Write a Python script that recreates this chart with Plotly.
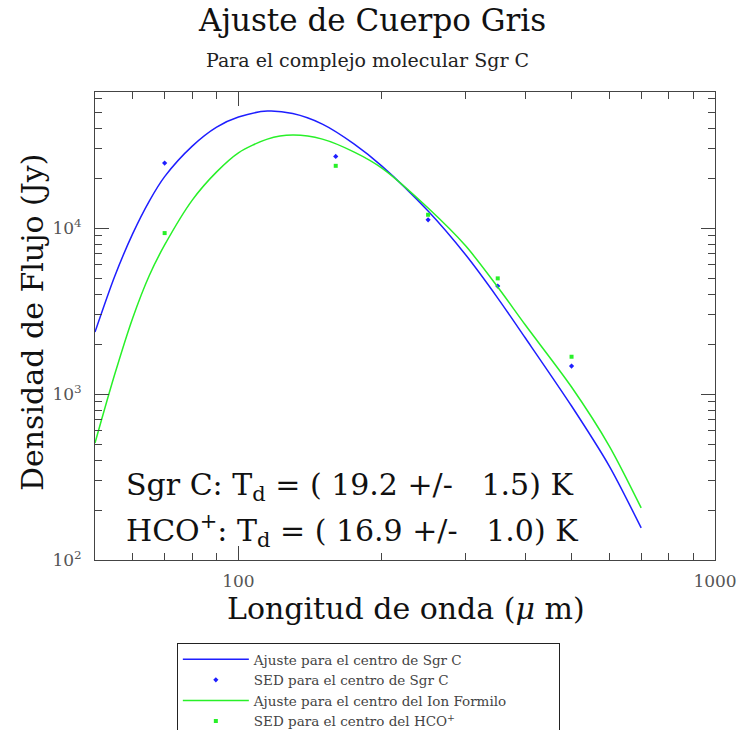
import plotly.graph_objects as go

# ---- data ----
fit_wavelength = [50, 55, 60, 65, 70, 80, 90, 100, 115, 130, 150, 175, 200, 250, 300, 350, 400, 500, 600, 700]
fit_sgrc = [2363, 5124, 9265, 14560, 20430, 31190, 40590, 46650, 50690, 48960, 42310, 32060, 23630,
            12660, 6876, 3787, 2175, 847, 368, 156]
fit_hco = [507, 1315, 2876, 5183, 7911, 14750, 21820, 28430, 34370, 36330, 34370, 28700, 22980,
           13200, 7790, 4412, 2604, 1102, 486, 206]

sed_wavelength = [70, 160, 250, 350, 500]
sed_sgrc = [24640, 27040, 11220, 4474, 1475]
sed_hco = [9330, 23720, 12030, 4977, 1678]

x_major = [100, 1000]
x_major_text = ["100", "1000"]
x_minor = [60, 70, 80, 90, 200, 300, 400, 500, 600, 700, 800, 900]
y_major = [100, 1000, 10000]
y_major_text = ["10<sup>2</sup>", "10<sup>3</sup>", "10<sup>4</sup>"]
y_minor = [200, 300, 400, 500, 600, 700, 800, 900, 2000, 3000, 4000, 5000, 6000, 7000, 8000, 9000,
           20000, 30000, 40000, 50000, 60000]

names = ["Ajuste para el centro de Sgr C", "SED para el centro de Sgr C",
         "Ajuste para el centro del Ion Formilo", "SED para el centro del HCO<sup>+</sup>"]

BLUE = "rgb(30,30,255)"
GREEN = "rgb(40,240,40)"
SERIF = "DejaVu Serif, Liberation Serif, serif"

fig = go.Figure()
fig.add_trace(go.Scatter(x=fit_wavelength, y=fit_sgrc, mode="lines", name=names[0],
                         line=dict(color=BLUE, width=1.5, shape="spline", smoothing=0.8)))
fig.add_trace(go.Scatter(x=sed_wavelength, y=sed_sgrc, mode="markers", name=names[1],
                         marker=dict(color=BLUE, size=4, symbol="diamond")))
fig.add_trace(go.Scatter(x=fit_wavelength, y=fit_hco, mode="lines", name=names[2],
                         line=dict(color=GREEN, width=1.5, shape="spline", smoothing=0.8)))
fig.add_trace(go.Scatter(x=sed_wavelength, y=sed_hco, mode="markers", name=names[3],
                         marker=dict(color=GREEN, size=4, symbol="square")))

axis_common = dict(showline=True, linecolor="#444", linewidth=1, mirror="allticks",
                   ticks="inside", ticklen=14, tickcolor="#444", showgrid=False, zeroline=False,
                   tickfont=dict(family=SERIF, size=17, color="#555"))

fig.update_xaxes(type="log", range=[1.69897, 3], tickmode="array", tickvals=x_major,
                 ticktext=x_major_text, ticklabelstandoff=6,
                 minor=dict(tickmode="array", tickvals=x_minor, ticks="inside", ticklen=7,
                            tickcolor="#444", showgrid=False),
                 **axis_common)
fig.update_yaxes(type="log", range=[2, 4.82], tickmode="array", tickvals=y_major,
                 ticktext=y_major_text, ticklabelstandoff=9,
                 minor=dict(tickmode="array", tickvals=y_minor, ticks="inside", ticklen=7,
                            tickcolor="#444", showgrid=False),
                 **axis_common)

annotations = [
    dict(text="Ajuste de Cuerpo Gris", x=0.447, y=1.154, xref="paper", yref="paper",
         showarrow=False, font=dict(family=SERIF, size=31, color="#111"), yanchor="middle"),
    dict(text="Para el complejo molecular Sgr C", x=0.44, y=1.068, xref="paper", yref="paper",
         showarrow=False, font=dict(family=SERIF, size=19, color="#222"), yanchor="middle"),
    dict(text="Longitud de onda (<i>\u03bc</i> m)", x=0.502, y=-0.103, xref="paper", yref="paper",
         showarrow=False, font=dict(family=SERIF, size=30, color="#111"), yanchor="middle"),
    dict(text="Densidad de Flujo (Jy)", x=-0.102, y=0.508, xref="paper", yref="paper",
         showarrow=False, textangle=-90, font=dict(family=SERIF, size=30, color="#111"),
         xanchor="center", yanchor="middle"),
    dict(text="Sgr C: T<sub>d</sub> = ( 19.2 +/-\u00a0\u00a0\u00a01.5) K", x=0.046, y=0.156,
         xref="paper", yref="paper", showarrow=False, xanchor="left", yanchor="middle",
         font=dict(family=SERIF, size=30, color="#111")),
    dict(text="HCO<sup>+</sup>: T<sub>d</sub> = ( 16.9 +/-\u00a0\u00a0\u00a01.0) K", x=0.046, y=0.064,
         xref="paper", yref="paper", showarrow=False, xanchor="left", yanchor="middle",
         font=dict(family=SERIF, size=30, color="#111")),
]

fig.update_layout(
    width=745, height=730,
    margin=dict(l=95, r=30, t=92, b=170, autoexpand=False),
    paper_bgcolor="white", plot_bgcolor="white",
    showlegend=True,
    legend=dict(x=0.132, y=-0.1774, xanchor="left", yanchor="top",
                orientation="h", entrywidth=300, entrywidthmode="pixels",
                bordercolor="#222", borderwidth=1, bgcolor="white",
                font=dict(family=SERIF, size=13.5, color="#444"),
                itemwidth=66, tracegroupgap=0),
    annotations=annotations,
)

fig.write_html("out.html")
